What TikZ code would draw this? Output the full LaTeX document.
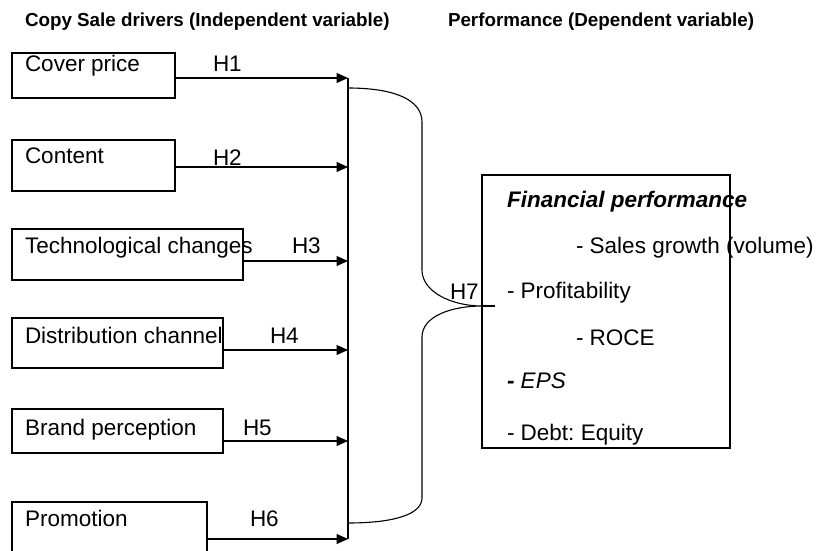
\documentclass[tikz,border=0pt]{standalone}
\usepackage{fontspec}
\setmainfont{Liberation Sans}
\usetikzlibrary{arrows.meta}
\frenchspacing
\begin{document}
\begin{tikzpicture}[x=1pt,y=-1pt,
  every node/.style={inner sep=0pt, outer sep=0pt},
  box/.style={draw, line width=1.1pt, rectangle},
  txt/.style={anchor=base west, font=\fontsize{22.5}{27}\selectfont},
  head/.style={anchor=base west, font=\fontsize{18.8}{22}\selectfont\bfseries},
  link/.style={line width=1.3pt, -{Triangle[length=11.5pt,width=10pt]}},
  bus/.style={line width=1.3pt},
  brace/.style={line width=1.1pt}]
\useasboundingbox (0,0) rectangle (817,551);
\clip (0,0) rectangle (817,551);

% headers
\node[head] (h1) at (25,27) {Copy Sale drivers (Independent variable)};
\node[head] (h2) at (448,27) {Performance (Dependent variable)};

% boxes
\node[box, minimum width=163pt, minimum height=45pt] (cover) at (93.5,75.5) {};
\node[box, minimum width=163pt, minimum height=51pt] (content) at (93.5,165.5) {};
\node[box, minimum width=231pt, minimum height=51pt] (tech) at (127.5,254.5) {};
\node[box, minimum width=211pt, minimum height=50pt] (dist) at (117.5,343) {};
\node[box, minimum width=211pt, minimum height=44pt] (brand) at (117.5,431) {};
\node[box, minimum width=195pt, minimum height=70pt] (promo) at (109.5,537) {};
\node[box, minimum width=248pt, minimum height=273pt] (fin) at (606,311.5) {};

% box texts
\node[txt] (coverT) at (25,72) {Cover price};
\node[txt] (contentT) at (25,163) {Content};
\node[txt] (techT) at (25,253) {Technological changes};
\node[txt] (distT) at (25,343) {Distribution channel};
\node[txt] (brandT) at (25,435) {Brand perception};
\node[txt] (promoT) at (25,526) {Promotion};

% bus
\coordinate (t1) at (348,78);
\coordinate (t2) at (348,167);
\coordinate (t3) at (348,261);
\coordinate (t4) at (348,350);
\coordinate (t5) at (348,441);
\coordinate (t6) at (348,539);
\draw[bus] (t1) -- (t6);

\draw[link] (cover.east |- t1) -- (t1);
\draw[link] (content.east |- t2) -- (t2);
\draw[link] (tech.east |- t3) -- (t3);
\draw[link] (dist.east |- t4) -- (t4);
\draw[link] (brand.east |- t5) -- (t5);
\draw[link] (promo.east |- t6) -- (t6);

% hypothesis labels
\node[txt] (H1) at (213,72) {H1};
\node[txt] (H2) at (213,165) {H2};
\node[txt] (H3) at (292,253) {H3};
\node[txt] (H4) at (270,343) {H4};
\node[txt] (H5) at (243,435) {H5};
\node[txt] (H6) at (250,526) {H6};
\node[txt] (H7) at (450,299) {H7};

% brace
\coordinate (bt) at (348,88);
\coordinate (bb) at (348,523);
\coordinate (tip) at (482,306);
\coordinate (tipend) at (495,306);
\draw[brace] (bt) .. controls (395,88) and (422,100) .. (422,122) -- (422,270)
  .. controls (422,292) and (452,306) .. (tip)
  .. controls (452,306) and (422,316) .. (422,337) -- (422,498)
  .. controls (422,514) and (395,523) .. (bb);
\draw[brace, line width=1.5pt] (tip) -- (tipend);

% performance texts
\node[txt, font=\fontsize{22.5}{27}\selectfont\bfseries\itshape] (finT) at (507,207) {Financial performance};
\node[txt] (sales) at (576,253) {- Sales growth (volume)};
\node[txt] (prof) at (507,298) {- Profitability};
\node[txt] (roce) at (576,345) {- ROCE};
\node[txt] (eps) at (507,388) {\textbf{\textit{-}} \textit{EPS}};
\node[txt] (debt) at (507,440) {- Debt: Equity};
\end{tikzpicture}
\end{document}
